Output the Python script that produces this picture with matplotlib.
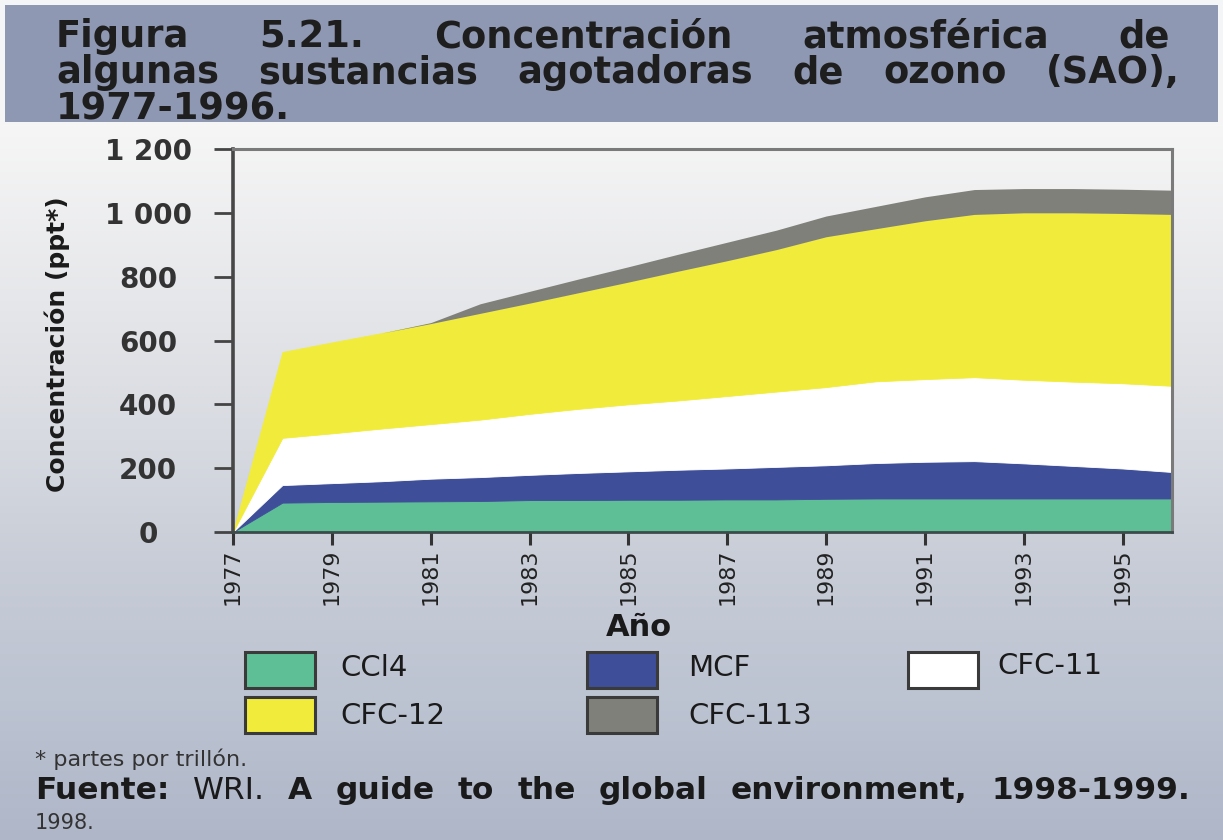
import matplotlib
matplotlib.use("Agg")
import matplotlib.pyplot as plt
import numpy as np
from matplotlib.patches import Rectangle
from matplotlib import font_manager

# data (ppt, stacked layers)
years = list(range(1977, 1997))
ccl4 = [0, 92, 94, 95, 96, 97, 100, 100, 101, 101, 102, 102, 104, 105, 105, 105, 105, 105, 105, 105]
mcf = [0, 55, 59, 64, 71, 75, 79, 85, 89, 94, 97, 102, 105, 111, 115, 117, 110, 102, 94, 83]
cfc11 = [0, 148, 156, 165, 171, 180, 191, 201, 210, 217, 227, 236, 245, 256, 259, 263, 262, 264, 267, 270]
cfc12 = [0, 269, 285, 299, 315, 333, 347, 364, 383, 405, 424, 445, 471, 478, 496, 510, 523, 529, 532, 537]
cfc113 = [0, 0, 0, 0, 3, 30, 37, 43, 48, 53, 58, 61, 65, 70, 75, 78, 76, 76, 76, 76]

series = [ccl4, mcf, cfc11, cfc12, cfc113]
labels = ["CCl4", "MCF", "CFC-11", "CFC-12", "CFC-113"]
colors = ["#5ebf97", "#3e4e99", "#ffffff", "#f1ec3b", "#80807a"]

yticks = [0, 200, 400, 600, 800, 1000, 1200]
ytick_labels = ["0", "200", "400", "600", "800", "1 000", "1 200"]
xticks = list(range(1977, 1996, 2))

W, H = 1223, 840

names = {f.name for f in font_manager.fontManager.ttflist}
NARROW = "Liberation Sans Narrow" if "Liberation Sans Narrow" in names else None

fig = plt.figure(figsize=(W / 100, H / 100), dpi=100)

# background gradient
gy = [0, 125, 300, 450, 560, 700, 840]
gc = ["#f4f5f7", "#f6f6f6", "#e6e7ea", "#d6d9e0", "#c8cdd7", "#bcc3d1", "#aeb6c8"]
rows = np.arange(H)
rgb = np.array([matplotlib.colors.to_rgb(c) for c in gc])
grad = np.stack([np.interp(rows, gy, rgb[:, i]) for i in range(3)], axis=-1)[:, None, :]
bg = fig.add_axes([0, 0, 1, 1], zorder=-10)
bg.imshow(grad, aspect="auto", extent=[0, 1, 0, 1])
bg.axis("off")

# title band
fig.add_artist(Rectangle((5 / W, 1 - 122 / H), 1213 / W, 117 / H,
                         transform=fig.transFigure, facecolor="#8f98b2", edgecolor="none"))

ax = fig.add_axes([233 / W, 1 - 532 / H, (1172 - 233) / W, (532 - 149) / H])
ax.set_facecolor("none")
polys = ax.stackplot(years, *series, colors=colors, linewidth=0.6)
for p in polys:
    p.set_edgecolor(p.get_facecolor())
polys[-1].set_linewidth(0)  # no outline where CFC-113 is still zero

ax.set_xlim(1977, 1996)
ax.set_ylim(0, 1200)
ax.set_yticks(yticks)
ax.set_yticklabels(ytick_labels, fontsize=20, fontweight="bold", color="#333333", ha="center")
ax.tick_params(axis="y", length=14, width=2, color="#444444", pad=47)
ax.set_xticks(xticks)
if NARROW:
    ax.set_xticklabels([str(x) for x in xticks], rotation=90, fontsize=21, color="#222222", family=NARROW)
else:
    ax.set_xticklabels([str(x) for x in xticks], rotation=90, fontsize=16, color="#222222")
ax.tick_params(axis="x", length=9, width=2.2, color="#333333", pad=3)

ax.spines["left"].set(color="#474747", linewidth=2.6)
ax.spines["top"].set(color="#7a7a7a", linewidth=2.2)
ax.spines["right"].set(color="#7a7a7a", linewidth=2.2)
ax.spines["bottom"].set(color="#3d4a4a", linewidth=2.0)

fig.canvas.draw()
r = fig.canvas.get_renderer()


def text_width(s, **kw):
    t = fig.text(0, 0, s, **kw)
    w = t.get_window_extent(r).width
    t.remove()
    return w


def justify(words, y, x0, x1, **kw):
    # words: list of (text, weight)
    ws = [text_width(w, fontweight=wt, **kw) for w, wt in words]
    gap = (x1 - x0 - sum(ws)) / (len(words) - 1)
    x = x0
    for (w, wt), wd in zip(words, ws):
        fig.text(x / W, 1 - y / H, w, fontweight=wt, va="baseline", ha="left", **kw)
        x += wd + gap


title_kw = dict(fontsize=26.5, color="#1e1e1e")
justify([(w, "bold") for w in "Figura 5.21. Concentración atmosférica de".split()], 47, 56, 1170, **title_kw)
justify([(w, "bold") for w in "algunas sustancias agotadoras de ozono (SAO),".split()], 83, 56, 1180, **title_kw)
fig.text(56 / W, 1 - 119 / H, "1977-1996.", fontweight="bold", va="baseline", ha="left", **title_kw)

# axis labels
if NARROW:
    lab_kw = dict(family=NARROW, fontweight="bold")
    ylab_size = 10 * 300 / text_width("Concentración (ppt*)", fontsize=10, **lab_kw)
else:
    lab_kw = dict(fontweight="bold")
    ylab_size = 18
fig.text(57 / W, 1 - 344 / H, "Concentración (ppt*)", rotation=90, ha="center", va="center",
         fontsize=ylab_size, color="#1a1a1a", **lab_kw)
fig.text(639 / W, 1 - 627 / H, "Año", ha="center", va="center",
         fontsize=26 if NARROW else 22, color="#1a1a1a", **lab_kw)

# legend
boxes = [(245, 652), (587, 652), (908, 652), (245, 697), (587, 697)]
text_x = [340, 688, 997, 340, 688]
text_y = [668, 668, 666, 716, 716]
for lab, col, (bx, by), tx, ty in zip(labels, colors, boxes, text_x, text_y):
    fig.add_artist(Rectangle((bx / W, 1 - (by + 36) / H), 70 / W, 36 / H,
                             transform=fig.transFigure, facecolor=col,
                             edgecolor="#3a3a3a", linewidth=2.2))
    fig.text(tx / W, 1 - ty / H, lab, ha="left", va="center", fontsize=21, color="#1a1a1a")

# footnotes
fig.text(35 / W, 1 - 766 / H, "* partes por trillón.", fontsize=16, color="#333333", va="baseline")
foot = [("Fuente:", "bold"), ("WRI.", "normal")] + [(w, "bold") for w in "A guide to the global environment, 1998-1999.".split()]
justify(foot, 799, 35, 1190, fontsize=22.5, color="#1a1a1a")
fig.text(35 / W, 1 - 829 / H, "1998.", fontsize=15, color="#333333", va="baseline")

fig.savefig("out.png", dpi=100)
